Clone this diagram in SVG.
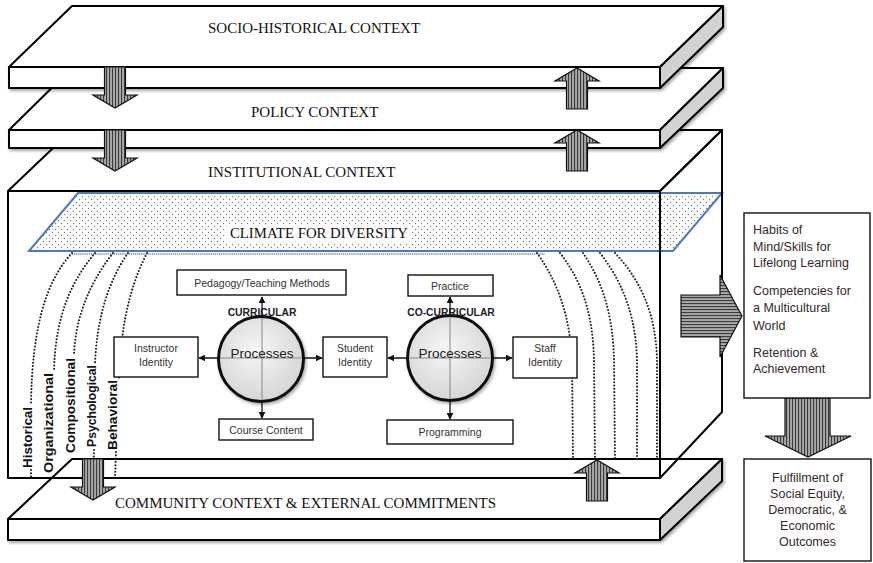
<svg xmlns="http://www.w3.org/2000/svg" width="873" height="563" viewBox="0 0 873 563">
<style>
.ctx{font-family:"Liberation Serif","Times New Roman",serif;font-size:15px;fill:#111}
.slab{stroke:#000;stroke-width:2;stroke-linejoin:round}
.top{fill:#fff}
.side{fill:#d2d2d2}
.ol{fill:none;stroke:#000;stroke-width:2;stroke-linejoin:round}
.box{fill:#fff;stroke:#111;stroke-width:1.4}
.bt{font-family:"Liberation Sans",Arial,sans-serif;font-size:10.5px;fill:#333;text-anchor:middle}
.proc{font-family:"Liberation Sans",Arial,sans-serif;font-size:13.5px;fill:#222;text-anchor:middle}
.cat{font-family:"Liberation Sans",Arial,sans-serif;font-size:10.3px;font-weight:bold;fill:#1c1c2a;text-anchor:middle}
.dim{font-family:"Liberation Sans",Arial,sans-serif;font-size:13px;font-weight:bold;fill:#111}
.dot{fill:none;stroke:#222;stroke-width:2.1;stroke-linecap:round;stroke-dasharray:0 3.3}
.conn{stroke:#111;stroke-width:1.3;fill:none}
.cross{stroke:#888;stroke-width:1}
.out{font-family:"Liberation Sans",Arial,sans-serif;font-size:12.5px;fill:#35282a}
.arr{stroke:#111;stroke-width:1.2}
</style>
<defs>
<pattern id="dots" width="6" height="6" patternUnits="userSpaceOnUse">
<circle cx="1.5" cy="1.5" r="0.7" fill="#777"/><circle cx="4.5" cy="4.5" r="0.7" fill="#777"/>
</pattern>
<pattern id="vs" width="3" height="4" patternUnits="userSpaceOnUse">
<rect width="3" height="4" fill="#a8a8a8"/><rect width="1.1" height="4" fill="#3c3c3c"/>
</pattern>
<pattern id="hs" width="4" height="3" patternUnits="userSpaceOnUse">
<rect width="4" height="3" fill="#a8a8a8"/><rect width="4" height="1.1" fill="#3c3c3c"/>
</pattern>
<radialGradient id="cg" cx="45%" cy="40%" r="60%">
<stop offset="0" stop-color="#f6f6f6"/><stop offset="1" stop-color="#d6d6d6"/>
</radialGradient>
<filter id="sh" x="-10%" y="-10%" width="130%" height="140%">
<feDropShadow dx="1.5" dy="2" stdDeviation="1.5" flood-color="#000" flood-opacity="0.35"/>
</filter>
<path id="vArrow" d="M-10.5,0 H10.5 V28 H22 L0,41 L-22,28 H-10.5 Z"/>
<marker id="ah" viewBox="0 0 10 10" refX="9" refY="5" markerWidth="7" markerHeight="7" orient="auto-start-reverse" markerUnits="userSpaceOnUse">
<path d="M0,0 L10,5 L0,10 Z" fill="#111"/>
</marker>
</defs>
<rect width="873" height="563" fill="#fff"/>

<!-- institutional box fills -->
<g id="institutional-fill">
<polygon points="8,191 72,130 722,130 660,191" fill="#fff"/>
<rect x="8" y="191" width="652" height="287" fill="#fff"/>
<polygon points="660,191 722,130 722,412 660,478" fill="#fff"/>
</g>

<!-- community slab -->
<g id="community" filter="url(#sh)">
<polygon class="slab top" points="8,519 72,459 722,459 660,519"/>
<rect class="slab top" x="8" y="519" width="652" height="21"/>
<polygon class="slab side" points="660,519 722,459 722,481 660,540"/>
</g>

<!-- climate for diversity -->
<g id="climate">
<polygon points="78,193 722,193 673,251 29,251" fill="#fff"/>
<polygon points="78,193 722,193 673,251 29,251" fill="url(#dots)" stroke="#4a78c4" stroke-width="2"/>
<line x1="72" y1="254" x2="545" y2="254" stroke="#444" stroke-width="1.6" stroke-dasharray="1.2 0.9" opacity="0.7"/>
<rect x="226" y="224" width="186" height="18" fill="#fff" opacity="0.85"/>
<text class="ctx" x="230" y="238" textLength="178" lengthAdjust="spacingAndGlyphs">CLIMATE FOR DIVERSITY</text>
</g>

<!-- institutional box outline -->
<g id="institutional">
<polygon class="ol" points="8,191 72,130 722,130 660,191"/>
<rect class="ol" x="8" y="191" width="652" height="287"/>
<polygon class="ol" points="660,191 722,130 722,412 660,478"/>
<text class="ctx" x="208" y="177">INSTITUTIONAL CONTEXT</text>
</g>

<!-- connectors: dotted influence lines and process arrows -->
<g id="connectors">
<path class="dot" d="M72,253 C45,282 32,330 31,405"/>
<path class="dot" d="M31,470 L31,478"/>
<path class="dot" d="M95,253 C68,285 55,322 54,372"/>
<path class="dot" d="M113,253 C88,285 75,320 74,356"/>
<path class="dot" d="M128,253 C106,285 97,322 95,363"/>
<path class="dot" d="M94,450 L93,478"/>
<path class="dot" d="M147,253 C128,290 121,330 119,378"/>
<path class="dot" d="M116,452 L115,478"/>
<path class="dot" d="M537,253 C560,285 570,320 572,360 L573,460"/>
<path class="dot" d="M560,253 C585,285 593,320 594,360 L595,460"/>
<path class="dot" d="M583,253 C605,285 613,320 614,360 L615,460"/>
<path class="dot" d="M600,253 C625,285 636,320 637,360 L637,460"/>
<path class="dot" d="M615,253 C645,285 656,320 657,360 L657,460"/>
<line class="conn" x1="262" y1="297" x2="262" y2="418" marker-start="url(#ah)" marker-end="url(#ah)"/>
<line class="conn" x1="199" y1="358" x2="322" y2="358" marker-start="url(#ah)" marker-end="url(#ah)"/>
<line class="conn" x1="450" y1="297" x2="450" y2="419" marker-start="url(#ah)" marker-end="url(#ah)"/>
<line class="conn" x1="388" y1="358" x2="512" y2="358" marker-start="url(#ah)" marker-end="url(#ah)"/>
</g>

<!-- dimension labels -->
<g id="dimensions">
<text class="dim" transform="translate(32,468) rotate(-90)" textLength="61" lengthAdjust="spacingAndGlyphs">Historical</text>
<text class="dim" transform="translate(53,473) rotate(-90)" textLength="100" lengthAdjust="spacingAndGlyphs">Organizational</text>
<text class="dim" transform="translate(75,453) rotate(-90)" textLength="95" lengthAdjust="spacingAndGlyphs">Compositional</text>
<text class="dim" transform="translate(96,447) rotate(-90)" textLength="82" lengthAdjust="spacingAndGlyphs">Psychological</text>
<text class="dim" transform="translate(117,450) rotate(-90)" textLength="70" lengthAdjust="spacingAndGlyphs">Behavioral</text>
</g>

<!-- curricular processes -->
<g id="curricular-processes">
<circle cx="261" cy="359" r="42.5" fill="url(#cg)" stroke="#111" stroke-width="3" filter="url(#sh)"/>
<line class="cross" x1="262" y1="318" x2="262" y2="400"/>
<line class="cross" x1="220" y1="358" x2="302" y2="358"/>
<text class="proc" x="262" y="358">Processes</text>
<text class="cat" x="262" y="316">CURRICULAR</text>
</g>
<g id="pedagogy"><rect class="box" x="177" y="270" width="169" height="25"/><text class="bt" x="262" y="286.5">Pedagogy/Teaching Methods</text></g>
<g id="instructor-identity"><rect class="box" x="114" y="337" width="84" height="40"/><text class="bt" x="156" y="352">Instructor</text><text class="bt" x="156" y="366">Identity</text></g>
<g id="course-content"><rect class="box" x="219" y="419" width="94" height="21"/><text class="bt" x="266" y="433.5">Course Content</text></g>
<g id="student-identity"><rect class="box" x="323" y="337" width="64" height="40"/><text class="bt" x="355" y="352">Student</text><text class="bt" x="355" y="366">Identity</text></g>

<!-- co-curricular processes -->
<g id="cocurricular-processes">
<circle cx="450" cy="358" r="42.5" fill="url(#cg)" stroke="#111" stroke-width="3" filter="url(#sh)"/>
<line class="cross" x1="450" y1="317" x2="450" y2="399"/>
<line class="cross" x1="409" y1="358" x2="491" y2="358"/>
<text class="proc" x="450" y="358">Processes</text>
<text class="cat" x="451" y="316">CO-CURRICULAR</text>
</g>
<g id="practice"><rect class="box" x="408" y="275" width="85" height="21"/><text class="bt" x="450" y="289.5">Practice</text></g>
<g id="staff-identity"><rect class="box" x="513" y="337" width="64" height="41"/><text class="bt" x="545" y="352">Staff</text><text class="bt" x="545" y="366">Identity</text></g>
<g id="programming"><rect class="box" x="387" y="420" width="126" height="24"/><text class="bt" x="450" y="435.5">Programming</text></g>

<text class="ctx" x="115" y="508">COMMUNITY CONTEXT &amp; EXTERNAL COMMITMENTS</text>

<!-- policy slab -->
<g id="policy">
<g filter="url(#sh)">
<polygon class="slab top" points="9,130 72,68 723,68 660,130"/>
<rect class="slab top" x="9" y="130" width="651" height="18"/>
<polygon class="slab side" points="660,130 723,68 723,88 660,148"/>
</g>
<text class="ctx" x="251" y="117">POLICY CONTEXT</text>
</g>

<!-- socio-historical slab -->
<g id="socio-historical">
<g filter="url(#sh)">
<polygon class="slab top" points="9,67 72,6 723,6 660,67"/>
<rect class="slab top" x="9" y="67" width="651" height="21"/>
<polygon class="slab side" points="660,67 723,6 723,27 660,88"/>
</g>
<text class="ctx" x="208" y="33">SOCIO-HISTORICAL CONTEXT</text>
</g>

<!-- influence arrows -->
<g id="flow-arrows">
<use href="#vArrow" transform="translate(115,67)" fill="url(#vs)" class="arr"/>
<use href="#vArrow" transform="translate(115,130)" fill="url(#vs)" class="arr"/>
<use href="#vArrow" transform="translate(577,109) scale(1,-1)" fill="url(#vs)" class="arr"/>
<use href="#vArrow" transform="translate(577,171) scale(1,-1)" fill="url(#vs)" class="arr"/>
<use href="#vArrow" transform="translate(93,459)" fill="url(#vs)" class="arr"/>
<use href="#vArrow" transform="translate(597,501) scale(1,-1)" fill="url(#vs)" class="arr"/>
<path d="M681,295 H720 V275 L742,316 L720,357 V337 H681 Z" fill="url(#hs)" class="arr"/>
<path d="M785,398 H830 V436 H851 L808,457 L765,436 H785 Z" fill="url(#vs)" class="arr"/>
</g>

<!-- outcomes -->
<g id="outcomes">
<rect class="box" x="744" y="213" width="126" height="185"/>
<text class="out" x="753" y="234">Habits of</text>
<text class="out" x="753" y="251">Mind/Skills for</text>
<text class="out" x="753" y="267">Lifelong Learning</text>
<text class="out" x="753" y="295">Competencies for</text>
<text class="out" x="753" y="312">a Multicultural</text>
<text class="out" x="753" y="330">World</text>
<text class="out" x="753" y="357">Retention &amp;</text>
<text class="out" x="753" y="373">Achievement</text>
</g>
<g id="fulfillment">
<rect class="box" x="744" y="459" width="127" height="102"/>
<text class="out" x="807.5" y="482" text-anchor="middle">Fulfillment of</text>
<text class="out" x="807.5" y="498" text-anchor="middle">Social Equity,</text>
<text class="out" x="807.5" y="514" text-anchor="middle">Democratic, &amp;</text>
<text class="out" x="807.5" y="530" text-anchor="middle">Economic</text>
<text class="out" x="807.5" y="546" text-anchor="middle">Outcomes</text>
</g>
</svg>
